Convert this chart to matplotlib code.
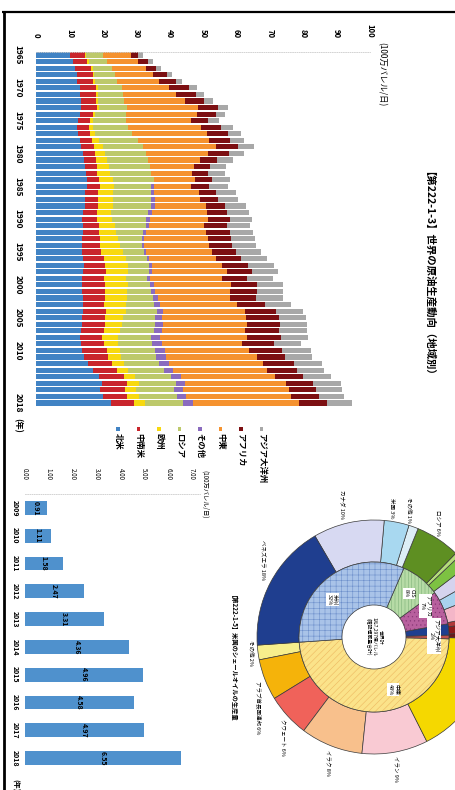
import matplotlib.pyplot as plt
from matplotlib.patches import Wedge, Rectangle
import numpy as np

plt.rcParams['font.family'] = ['Noto Sans CJK JP', 'DejaVu Sans']
plt.rcParams['hatch.linewidth'] = 0.4

W, H = 456, 790

# --- 世界の原油生産動向（地域別） 100万バレル/日 ---
years = list(range(1965, 2019))
north_america = [10.30, 10.96, 11.74, 12.23, 12.42, 13.26, 13.22, 13.52, 13.59, 13.11,
                 12.55, 12.25, 12.56, 13.22, 13.60, 14.06, 14.34, 14.79, 14.84, 15.30,
                 15.30, 14.79, 14.72, 14.63, 14.03, 13.86, 14.19, 14.05, 13.90, 13.81,
                 13.79, 14.05, 14.27, 14.18, 13.68, 13.90, 13.91, 14.07, 14.19, 14.14,
                 13.70, 13.74, 13.62, 13.15, 13.47, 13.88, 14.32, 15.56, 16.95, 18.84,
                 19.73, 19.27, 20.17, 22.59]
latin_america = [4.33, 4.41, 4.69, 4.77, 4.73, 4.83, 4.68, 4.39, 4.59, 3.99,
                 3.53, 3.54, 3.55, 3.58, 3.78, 3.72, 3.62, 3.52, 3.52, 3.67,
                 3.74, 3.81, 3.77, 4.00, 4.14, 4.51, 4.80, 4.95, 5.13, 5.38,
                 5.77, 6.18, 6.53, 6.81, 6.58, 6.73, 6.70, 6.62, 6.31, 6.68,
                 6.89, 6.87, 6.64, 6.66, 6.74, 7.30, 7.38, 7.34, 7.35, 7.59,
                 7.64, 7.36, 7.14, 6.61]
europe = [0.45, 0.47, 0.49, 0.50, 0.51, 0.52, 0.52, 0.53, 0.54, 0.58,
          0.90, 1.25, 1.70, 2.15, 2.70, 2.90, 3.15, 3.50, 3.85, 4.10,
          4.30, 4.40, 4.50, 4.45, 4.25, 4.30, 4.55, 5.00, 5.40, 6.00,
          6.40, 6.75, 6.80, 6.65, 6.75, 6.85, 6.65, 6.65, 6.35, 6.05,
          5.55, 5.15, 4.90, 4.60, 4.35, 4.05, 3.65, 3.35, 3.15, 3.15,
          3.35, 3.45, 3.45, 3.35]
russia = [4.87, 5.38, 5.76, 6.21, 6.60, 7.13, 7.53, 8.02, 8.62, 9.27,
          9.92, 10.48, 11.08, 11.66, 11.90, 12.20, 12.30, 12.32, 12.33, 12.22,
          11.07, 11.30, 11.48, 11.44, 11.19, 10.40, 9.33, 8.00, 7.17, 6.42,
          6.29, 6.11, 6.23, 6.17, 6.18, 6.58, 7.06, 7.70, 8.54, 9.29,
          9.55, 9.77, 10.04, 9.95, 10.14, 10.37, 10.53, 10.66, 10.81, 10.93,
          11.09, 11.34, 11.37, 11.56]
other = [0.0] * 20 + [
          1.00, 1.00, 1.02, 1.02, 0.98, 0.95, 0.92, 0.88, 0.82, 0.78,
          0.78, 0.82, 0.88, 0.98, 1.08, 1.25, 1.40, 1.55, 1.70, 1.90,
          2.10, 2.35, 2.60, 2.75, 2.90, 2.95, 2.90, 2.85, 2.90, 2.85,
          2.80, 2.70, 2.80, 2.85]
middle_east = [8.39, 9.45, 10.12, 11.35, 12.52, 14.06, 16.10, 18.10, 21.10, 21.40,
               19.60, 22.00, 22.20, 21.30, 21.90, 18.50, 15.80, 13.20, 12.30, 12.20,
               11.00, 13.40, 13.60, 15.40, 16.60, 17.50, 16.50, 18.10, 19.00, 19.30,
               19.70, 20.10, 21.10, 22.30, 21.40, 23.00, 22.50, 21.40, 23.00, 24.60,
               25.20, 25.40, 24.90, 26.00, 24.00, 25.10, 27.30, 28.10, 28.10, 28.30,
               30.10, 31.70, 31.30, 31.80]
africa = [2.24, 2.89, 3.23, 4.10, 5.00, 6.10, 5.80, 5.80, 6.00, 5.40,
          5.00, 5.90, 6.30, 6.20, 6.70, 6.30, 4.90, 4.70, 4.70, 5.10,
          5.40, 5.30, 5.40, 5.60, 6.10, 6.70, 7.00, 7.00, 7.00, 7.00,
          7.20, 7.50, 7.70, 7.60, 7.50, 7.80, 7.90, 7.90, 8.40, 9.30,
          9.80, 9.90, 10.20, 10.20, 9.60, 10.10, 8.50, 9.40, 8.80, 8.30,
          8.30, 7.90, 8.40, 8.30]
asia_pacific = [1.32, 1.41, 1.41, 1.55, 1.79, 2.16, 2.41, 2.65, 2.90, 2.87,
                3.21, 3.54, 3.84, 4.30, 4.61, 4.67, 4.73, 4.81, 5.13, 5.54,
                5.80, 5.93, 6.00, 6.23, 6.40, 6.57, 6.85, 6.89, 7.08, 7.24,
                7.57, 7.75, 7.82, 7.74, 7.77, 7.95, 7.85, 7.97, 7.96, 8.02,
                8.08, 8.06, 8.12, 8.13, 8.09, 8.45, 8.15, 8.27, 8.21, 8.32,
                8.32, 7.99, 7.70, 7.53]
region_names = ['北米', '中南米', '欧州', 'ロシア', 'その他', '中東', 'アフリカ', 'アジア大洋州']
region_colors = ['#4183C4', '#C9252C', '#F8D90F', '#BDC96B', '#8A6BBE', '#F5922F',
                 '#7C0F12', '#A8A8A8']
year_ticks = [1965, 1970, 1975, 1980, 1985, 1990, 1995, 2000, 2005, 2010, 2018]

# --- 米国のシェールオイルの生産量 100万バレル/日 ---
shale_years = list(range(2009, 2019))
shale_output = [0.91, 1.11, 1.58, 2.47, 3.31, 4.36, 4.96, 4.58, 4.97, 6.55]

# --- 世界の原油確認埋蔵量 (2018年末) 内側: 地域, 外側: 国 ---
reserve_regions = ['中東', '欧州', 'アジア大洋州', 'アフリカ', 'CIS', '米州']
reserve_region_share = [48.3, 0.8, 2.4, 7.2, 8.4, 32.5]
reserve_countries = ['その他', 'アラブ首長国連邦', 'クウェート', 'イラク', 'イラン', None,
                     None, None, None, None, None, None,
                     None, None, 'ロシア', 'その他', '米国', 'カナダ', 'ベネズエラ']
reserve_country_share = [2.0, 5.6, 5.9, 8.5, 9.0, 17.2,
                         0.8, 1.5, 0.9, 2.8, 2.2, 2.2,
                         1.7, 0.6, 6.1, 1.3, 3.4, 9.7, 17.5]

fig = plt.figure(figsize=(W / 100, H / 100), dpi=100)


def box(x0, y0, x1, y1):
    return [x0 / W, 1 - y1 / H, (x1 - x0) / W, (y1 - y0) / H]


# full-page layer in pixel units for frames, titles, legend and the donut
page = fig.add_axes([0, 0, 1, 1])
page.set_xlim(0, W)
page.set_ylim(H, 0)
page.axis('off')
page.plot([2, W], [12, 12], color='black', lw=1.6, solid_capstyle='butt')
page.plot([4, 4], [12, H], color='black', lw=2.0, solid_capstyle='butt')

# ---------------- stacked production chart ----------------
ax = fig.add_axes(box(36, 51.7, 370, 406.3))
series = [north_america, latin_america, europe, russia, other, middle_east, africa, asia_pacific]
left = np.zeros(len(years))
for vals, col in zip(series, region_colors):
    ax.barh(years, vals, left=left, height=0.78, color=col, linewidth=0)
    left += np.array(vals)
ax.set_xlim(0, 100)
ax.set_ylim(2018.5, 1964.5)
ax.xaxis.tick_top()
ax.set_xticks(range(0, 101, 10))
ax.set_xticklabels([str(v) for v in range(0, 101, 10)], rotation=-90,
                   fontsize=5.5, fontweight='bold', ha='center', va='bottom')
ax.set_yticks(year_ticks)
ax.set_yticklabels([str(y) for y in year_ticks], rotation=-90,
                   fontsize=6, fontweight='bold', ha='right', va='center')
ax.tick_params(axis='x', length=0, pad=10)
ax.tick_params(axis='y', length=0, pad=9.5)
for side in ['left', 'right', 'bottom']:
    ax.spines[side].set_visible(False)
ax.spines['top'].set_color('#cccccc')
ax.spines['top'].set_linestyle(':')
ax.spines['top'].set_linewidth(0.6)

page.text(18, 418, '(年)', rotation=-90, ha='center', va='top', fontsize=6, fontweight='bold')
page.text(382, 42, '(100万バレル/日)', rotation=-90, ha='center', va='top', fontsize=6)
page.text(423, 278, '【第222-1-3】世界の原油生産動向（地域別）', rotation=-90,
          ha='center', va='center', fontsize=7.5, fontweight='bold')

for i, (name, col) in enumerate(zip(region_names, region_colors)):
    x = 118 + 20.5 * i
    page.add_patch(Rectangle((x - 1.8, 427), 3.6, 3.6, color=col, lw=0))
    page.text(x, 433, name, rotation=-90, ha='center', va='top', fontsize=6, fontweight='bold')

# ---------------- shale oil bar chart ----------------
bx = fig.add_axes(box(25, 494, 200, 772))
bx.barh(shale_years, shale_output, height=0.5, color='#4F91CD', linewidth=0)
for yr, v in zip(shale_years, shale_output):
    bx.text(v / 2, yr, f'{v:.2f}', rotation=-90, ha='center', va='center',
            fontsize=5, fontweight='bold')
bx.set_xlim(0, 175 / 23.86)
bx.set_ylim(2018.5, 2008.5)
bx.xaxis.tick_top()
bx.set_xticks(range(0, 8))
bx.set_xticklabels([f'{v:.2f}' for v in range(0, 8)], rotation=-90, fontsize=4.5,
                   ha='center', va='bottom')
bx.set_yticks(shale_years)
bx.set_yticklabels([str(y) for y in shale_years], rotation=-90, fontsize=5,
                   fontweight='bold', ha='right', va='center')
bx.tick_params(axis='x', length=0, pad=10)
bx.tick_params(axis='y', length=0, pad=4.5)
for side in ['left', 'right', 'bottom']:
    bx.spines[side].set_visible(False)
bx.spines['top'].set_color('#cccccc')
bx.spines['top'].set_linestyle(':')
bx.spines['top'].set_linewidth(0.6)

page.text(15, 779, '(年)', rotation=-90, ha='center', va='top', fontsize=5, fontweight='bold')
page.text(65, 730, '20', rotation=-90, ha='center', va='center', fontsize=5, fontweight='bold')
page.text(205, 470, '(100万バレル/日)', rotation=-90, ha='center', va='top', fontsize=4.5)
page.text(230, 660, '【第222-1-5】米国のシェールオイルの生産量', rotation=-90,
          ha='center', va='center', fontsize=4.5, fontweight='bold')

# ---------------- reserves donut ----------------
cx, cy = 374, 637
r_outer, r_mid, r_hole = 117, 75, 32
start = 184

inner_colors = ['#FBE38A', '#C0504D', '#1F3F8F', '#B8609E', '#B6DBA6', '#A9C3E8']
inner_hatch = ['/////', None, None, '....', '|||||', '+++']
inner_hatch_col = ['#EDB860', None, None, '#8A3A78', '#7FB27A', '#6D8FCB']
outer_colors = ['#F7EE8C', '#F5B30A', '#F0625A', '#F8C08C', '#F9CAD3', '#F5D800',
                '#6B1A1A', '#8E1B1B', '#B03A3A', '#F4B6C8', '#A9D2EE', '#D5D3EE',
                '#7DC242', '#B5DD7A', '#5E8F22', '#DDEEF6', '#A8D8F0', '#D7D9F2', '#1F3E8F']
# label directions for the region boxes in the inner ring
inner_label_angle = {'中東': 290, '米州': 138, 'アフリカ': 31, 'アジア大洋州': 1}


def ring(shares, colors, r_out, width, hatches=None, hatch_cols=None):
    total = sum(shares)
    a = start
    mids = []
    for i, (s, c) in enumerate(zip(shares, colors)):
        span = 360 * s / total
        h = hatches[i] if hatches else None
        hc = hatch_cols[i] if hatch_cols else None
        if h:
            page.add_patch(Wedge((cx, cy), r_out, -(a + span), -a, width=width,
                                 facecolor=c, edgecolor=hc, hatch=h, lw=0))
            page.add_patch(Wedge((cx, cy), r_out, -(a + span), -a, width=width,
                                 fill=False, edgecolor='#3a3a3a', lw=0.5))
        else:
            page.add_patch(Wedge((cx, cy), r_out, -(a + span), -a, width=width,
                                 facecolor=c, edgecolor='#3a3a3a', lw=0.5))
        mids.append(a + span / 2)
        a += span
    return mids


outer_mids = ring(reserve_country_share, outer_colors, r_outer, r_outer - r_mid)
inner_mids = ring(reserve_region_share, inner_colors, r_mid, r_mid - r_hole,
                  inner_hatch, inner_hatch_col)

for name, share, mid in zip(reserve_regions, reserve_region_share, inner_mids):
    if share < 1:
        continue
    rad = np.deg2rad(inner_label_angle.get(name, mid))
    r_lab = 60 if name in ('アフリカ', 'アジア大洋州') else 56
    page.text(cx + r_lab * np.cos(rad), cy - r_lab * np.sin(rad), f'{name}\n{share:.0f}%',
              rotation=-90, ha='center', va='center', fontsize=4, linespacing=1.1,
              bbox=dict(facecolor='white', edgecolor='none', pad=0.8))

for name, share, mid in zip(reserve_countries, reserve_country_share, outer_mids):
    if name is None:
        continue
    rad = np.deg2rad(mid)
    c, s = np.cos(rad), np.sin(rad)
    ha = 'left' if c > 0.45 else ('right' if c < -0.3 else 'center')
    va = 'bottom' if s > 0.3 else ('top' if s < -0.3 else 'center')
    page.text(cx + 121 * c - 6 * max(s, 0), cy - 121 * s, f'{name} {share:.0f}%',
              rotation=-90, ha=ha, va=va, fontsize=4)

page.text(cx, cy, '世界計\n1兆7,297億バレル\n(確認埋蔵量合計)', rotation=-90,
          ha='center', va='center', fontsize=3.5, linespacing=1.2)

fig.savefig('out.png', dpi=100)
